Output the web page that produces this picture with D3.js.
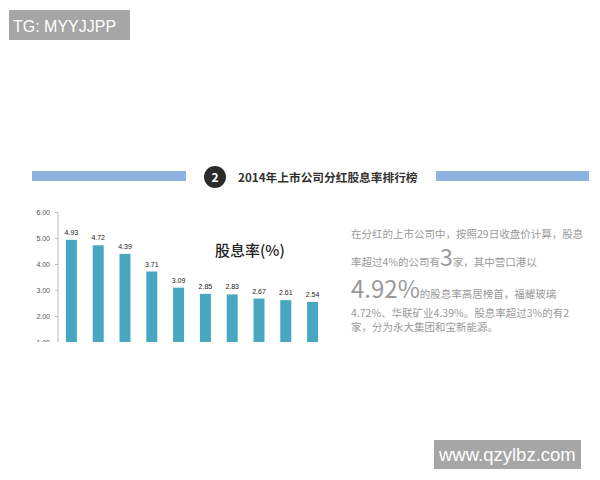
<!DOCTYPE html>
<html><head><meta charset="utf-8">
<script src="https://cdn.jsdelivr.net/npm/d3@7"></script>
<style>html,body{margin:0;padding:0;background:#fff;}</style>
</head><body>
<svg id="c" width="600" height="480"></svg>
<script>
const ranks = ["1","2","3","4","5","6","7","8","9","10"];
const yieldValues = [4.93, 4.72, 4.39, 3.71, 3.09, 2.85, 2.83, 2.67, 2.61, 2.54];
const yTicks = [1, 2, 3, 4, 5, 6];
const titleText = "2014年上市公司分红股息率排行榜";
const seriesName = "股息率(%)";

const svg = d3.select("#c");
const cjk = "'Noto Sans CJK SC','Noto Sans',sans-serif";

// watermark top-left
svg.append("rect").attr("x",9).attr("y",10).attr("width",121).attr("height",30).attr("fill","#a6a6a6");
svg.append("text").attr("x",13).attr("y",32).attr("fill","#fff")
  .style("font-family","'Liberation Sans',Arial,sans-serif").style("font-size","16px").text("TG: MYYJJPP");

// watermark bottom-right
svg.append("rect").attr("x",434).attr("y",440).attr("width",147).attr("height",29).attr("fill","#a6a6a6");
svg.append("text").attr("x",439).attr("y",461).attr("fill","#fff")
  .style("font-family","'Liberation Sans',Arial,sans-serif").style("font-size","18.5px").text("www.qzylbz.com");

// title bars
svg.append("rect").attr("x",32).attr("y",171).attr("width",154).attr("height",10).attr("fill","#8eb3e0");
svg.append("rect").attr("x",436).attr("y",171).attr("width",153).attr("height",10).attr("fill","#8eb3e0");
svg.append("circle").attr("cx",215).attr("cy",177).attr("r",11).attr("fill","#2b2b2b");
svg.append("text").attr("x",215).attr("y",181.5).attr("text-anchor","middle").attr("fill","#fff")
  .style("font-family",cjk).style("font-size","12px").style("font-weight","bold").text("2");
svg.append("text").attr("x",238).attr("y",182).attr("fill","#333")
  .style("font-family",cjk).style("font-size","11.7px").style("font-weight","bold").text(titleText);

// chart
const y = d3.scaleLinear().domain([0,6]).range([368,212]);
const x = d3.scaleBand().domain(ranks).range([58,326]).paddingInner(0.59).paddingOuter(0.295);

svg.append("defs").append("clipPath").attr("id","clip")
  .append("rect").attr("x",0).attr("y",190).attr("width",600).attr("height",152);

const g = svg.append("g").attr("clip-path","url(#clip)");

const yAxis = d3.axisLeft(y).tickValues(yTicks).tickFormat(d3.format(".2f")).tickSize(3).tickPadding(5);
const ax = g.append("g").attr("transform","translate(58,0)").call(yAxis);
ax.select(".domain").attr("stroke","#bbb").attr("d","M0,212V368");
ax.selectAll(".tick line").attr("stroke","#bbb");
ax.selectAll(".tick text").attr("fill","#555").style("font-family","'Liberation Sans',Arial,sans-serif").style("font-size","7px");

g.selectAll("rect.bar").data(yieldValues).join("rect").attr("class","bar")
  .attr("x",(d,i)=>x(ranks[i])).attr("width",x.bandwidth())
  .attr("y",d=>y(d)).attr("height",d=>y(0)-y(d)).attr("fill","#47a6c0");

g.selectAll("text.val").data(yieldValues).join("text").attr("class","val")
  .attr("x",(d,i)=>x(ranks[i])+x.bandwidth()/2).attr("y",d=>y(d)-5)
  .attr("text-anchor","middle").attr("fill","#222")
  .style("font-family","'Liberation Sans',Arial,sans-serif").style("font-size","7px")
  .text(d=>d.toFixed(2));

svg.append("text").attr("x",215).attr("y",256).attr("fill","#222")
  .style("font-family",cjk).style("font-size","15px").style("font-weight","500").text(seriesName);

// description text
const grey = "#9a9a9a";
const fs = "10.5px";
function line(yPos, parts){
  const t = svg.append("text").attr("x",351).attr("y",yPos).attr("fill",grey).style("font-family",cjk);
  parts.forEach(p=>t.append("tspan").style("font-size",p[1]||fs).text(p[0]));
}
line(238, [["在分红的上市公司中，按照29日收盘价计算，股息"]]);
line(266, [["率超过4%的公司有"],["3","23px"],["家，其中营口港以"]]);
line(298, [["4.92%","24px"],["的股息率高居榜首，福耀玻璃"]]);
line(317, [["4.72%、华联矿业4.39%。股息率超过3%的有2"]]);
line(331, [["家，分为永大集团和宝新能源。"]]);
</script>
</body></html>
